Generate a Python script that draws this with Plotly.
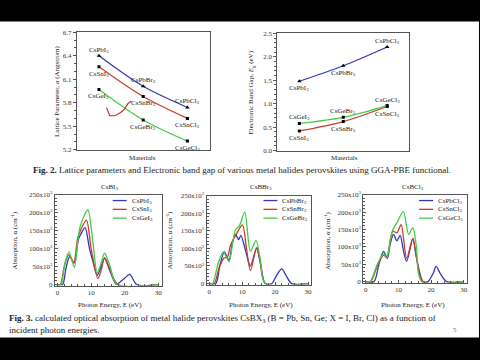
import plotly.graph_objects as go

# ---------------- data ----------------
materials_pos = [1, 2, 3]
lat_pb = [6.40, 6.01, 5.74]
lat_sn = [6.26, 5.88, 5.60]
lat_ge = [5.97, 5.58, 5.31]
lat_pb_labels = ["CsPbI<sub>3</sub>", "CsPbBr<sub>3</sub>", "CsPbCl<sub>3</sub>"]
lat_sn_labels = ["CsSnI<sub>3</sub>", "CsSnBr<sub>3</sub>", "CsSnCl<sub>3</sub>"]
lat_ge_labels = ["CsGeI<sub>3</sub>", "CsGeBr<sub>3</sub>", "CsGeCl<sub>3</sub>"]

gap_pb = [1.48, 1.81, 2.21]
gap_sn = [0.42, 0.62, 0.94]
gap_ge = [0.58, 0.71, 0.96]

# absorption (values in 10^3 cm^-1) vs photon energy (eV)
e_pbi = [0, 1.5, 2.5, 3.6, 5.0, 6.2, 7.2, 8.2, 9.5, 10.5, 11.8, 12.8, 14.0, 15.5, 17.5, 18.7, 19.8, 21.5, 23.6, 30]
a_pbi = [0, 0, 45, 78, 60, 125, 145, 158, 100, 65, 26, 45, 73, 40, 0, 8, 16, 28, 0, 0]
e_sni = [0, 0.8, 2.0, 3.3, 4.8, 6.0, 6.8, 8.6, 10.0, 12.0, 13.0, 14.0, 15.5, 18.0, 30]
a_sni = [0, 0, 50, 83, 60, 130, 150, 179, 100, 17, 40, 75, 45, 0, 0]
e_gei = [0, 1.0, 2.2, 3.4, 5.0, 6.0, 6.8, 9.0, 10.5, 11.8, 13.0, 14.0, 15.5, 17.7, 30]
a_gei = [0, 0, 60, 91, 48, 120, 164, 208, 120, 33, 60, 87, 55, 0, 0]

e_pbbr = [0, 2.0, 3.2, 4.6, 6.0, 7.0, 8.0, 8.9, 9.6, 11.0, 12.5, 14.4, 15.5, 17.0, 19.0, 20.5, 22.0, 23.5, 25.0, 30]
a_pbbr = [0, 0, 50, 90, 66, 115, 140, 125, 137, 95, 50, 100, 60, 0, 0, 24, 42, 20, 0, 0]
e_snbr = [0, 1.5, 3.0, 4.5, 5.5, 6.5, 8.2, 10.1, 11.3, 12.5, 14.4, 15.5, 17.0, 30]
a_snbr = [0, 0, 45, 73, 75, 110, 140, 167, 100, 37, 103, 60, 0, 0]
e_gebr = [0, 1.0, 2.8, 4.3, 6.0, 7.2, 8.0, 9.2, 10.8, 12.5, 14.2, 15.5, 17.0, 30]
a_gebr = [0, 0, 60, 90, 62, 120, 153, 165, 203, 92, 123, 70, 0, 0]

e_pbcl = [0, 2.5, 4.0, 5.4, 6.6, 7.5, 8.5, 9.5, 10.5, 11.5, 12.5, 14.4, 15.5, 17.5, 19.0, 20.7, 21.5, 23.0, 24.8, 30]
a_pbcl = [0, 0, 50, 87, 67, 110, 136, 117, 133, 90, 58, 122, 70, 0, 0, 25, 44, 20, 0, 0]
e_sncl = [0, 1.5, 3.5, 5.4, 6.4, 7.5, 8.3, 9.5, 10.8, 12.5, 14.4, 15.5, 17.5, 30]
a_sncl = [0, 0, 45, 76, 70, 120, 145, 140, 164, 67, 125, 70, 0, 0]
e_gecl = [0, 1.3, 3.5, 5.4, 6.4, 7.5, 8.3, 9.5, 11.5, 13.1, 14.4, 15.5, 17.1, 30]
a_gecl = [0, 0, 50, 80, 67, 120, 150, 169, 201, 136, 155, 100, 0, 0]

abs_ticks = [0, 50, 100, 150, 200, 250]
abs_ticktext = ["0"] + [f"{v}x10<sup>3</sup>" for v in abs_ticks[1:]]

# ---------------- styling ----------------
FONT = "Liberation Serif"
BLUE = "#3535b5"
RED = "#c83c2c"
GREEN = "#45cc45"
AX = "#555555"

fig = go.Figure()

def line_trace(x, y, color, xa, ya):
    return go.Scatter(x=x, y=y, mode="lines", line=dict(color=color, width=1.2, shape="spline", smoothing=0.9),
                      xaxis=xa, yaxis=ya, showlegend=False, hoverinfo="skip")

def pts(x, y, sym, xa, ya, size):
    return go.Scatter(x=x, y=y, mode="markers", marker=dict(symbol=sym, size=size, color="black", line=dict(width=0)),
                      xaxis=xa, yaxis=ya, showlegend=False, hoverinfo="skip")

for ys, col, sym, sz in [(lat_pb, BLUE, "triangle-up", 4), (lat_sn, RED, "square", 3), (lat_ge, GREEN, "square", 3)]:
    fig.add_trace(line_trace(materials_pos, ys, col, "x", "y"))
    fig.add_trace(pts(materials_pos, ys, sym, "x", "y", sz))

for ys, col, sym, sz in [(gap_pb, BLUE, "triangle-up", 4), (gap_sn, RED, "square", 3), (gap_ge, GREEN, "square", 3)]:
    fig.add_trace(line_trace(materials_pos, ys, col, "x2", "y2"))
    fig.add_trace(pts(materials_pos, ys, sym, "x2", "y2", sz))

sets = [
    ("x3", "y3", [(e_pbi, a_pbi, BLUE), (e_sni, a_sni, RED), (e_gei, a_gei, GREEN)]),
    ("x4", "y4", [(e_pbbr, a_pbbr, BLUE), (e_snbr, a_snbr, RED), (e_gebr, a_gebr, GREEN)]),
    ("x5", "y5", [(e_pbcl, a_pbcl, BLUE), (e_sncl, a_sncl, RED), (e_gecl, a_gecl, GREEN)]),
]
for xa, ya, series in sets:
    for e, a, col in series:
        fig.add_trace(go.Scatter(x=e, y=a, mode="lines",
                                 line=dict(color=col, width=1.3, shape="spline", smoothing=0.8),
                                 xaxis=xa, yaxis=ya, showlegend=False, hoverinfo="skip"))

def W(px0, px1):
    return [px0 / 480, px1 / 480]

def H(py_top, py_bot):
    return [1 - py_bot / 360, 1 - py_top / 360]

tickfont = dict(family=FONT, size=7, color="#333")
common = dict(showline=True, linecolor=AX, linewidth=1, mirror=True, showgrid=False, zeroline=False,
              tickfont=tickfont)

layout = dict(
    width=480, height=360, margin=dict(l=0, r=0, t=0, b=0),
    paper_bgcolor="black", plot_bgcolor="white", showlegend=False,
    font=dict(family=FONT, color="#222", size=7),
    xaxis=dict(domain=W(77, 210), anchor="y", range=[0.5, 3.5], showticklabels=False, ticks="", **common),
    yaxis=dict(domain=H(29, 149), anchor="x", range=[5.2, 6.7], tickvals=[5.2, 5.5, 5.8, 6.1, 6.4, 6.7],
               tickformat=".1f", ticks="outside", ticklen=3, tickcolor=AX,
               minor=dict(dtick=0.1, ticks="outside", ticklen=2, tickcolor=AX), **common),
    xaxis2=dict(domain=W(278, 410), anchor="y2", range=[0.5, 3.5], showticklabels=False, ticks="", **common),
    yaxis2=dict(domain=H(30, 150), anchor="x2", range=[0, 2.5], tickvals=[0, 0.5, 1, 1.5, 2, 2.5],
                tickformat=".1f", ticks="outside", ticklen=3, tickcolor=AX,
                minor=dict(dtick=0.1, ticks="outside", ticklen=2, tickcolor=AX), **common),
)

bot_dom = [(W(55, 162), H(195, 288)), (W(207, 312), H(196, 287)), (W(364, 468), H(195, 285))]
for i, (dx, dy) in enumerate(bot_dom):
    n = i + 3
    layout[f"xaxis{n}"] = dict(domain=dx, anchor=f"y{n}", range=[-0.8, 31], tickvals=[0, 10, 20, 30],
                               ticks="inside", ticklen=3, tickcolor=AX,
                               minor=dict(dtick=2, ticks="inside", ticklen=2, tickcolor=AX), **common)
    layout[f"yaxis{n}"] = dict(domain=dy, anchor=f"x{n}", range=[-3, 250], tickvals=abs_ticks,
                               ticktext=abs_ticktext, ticks="inside", ticklen=3, tickcolor=AX,
                               minor=dict(dtick=10, ticks="inside", ticklen=2, tickcolor=AX), **common)

fig.update_layout(**layout)

ann = []
def A(text, x, y, size=7, xanchor="center", color="#222", **kw):
    ann.append(dict(text=text, x=x, y=y, xref="paper", yref="paper", showarrow=False,
                    font=dict(family=FONT, size=size, color=color),
                    xanchor=xanchor, yanchor="middle", **kw))

off = {"above": -6, "below": 7}
tl = [(lat_pb_labels, lat_pb, ["above", "above", "above"]),
      (lat_sn_labels, lat_sn, ["below", "below", "below"]),
      (lat_ge_labels, lat_ge, ["below", "below", "below"])]
for labels, vals, where in tl:
    for xi, v, lab, w in zip(materials_pos, vals, labels, where):
        ann.append(dict(text=lab, x=xi, y=v, xref="x", yref="y", showarrow=False, yshift=-off[w],
                        font=dict(family=FONT, size=7, color="#222")))
tr = [(lat_pb_labels, gap_pb, ["below", "below", "above"]),
      (lat_sn_labels, gap_sn, ["below", "below", "below"]),
      (lat_ge_labels, gap_ge, ["above", "above", "above"])]
for labels, vals, where in tr:
    for xi, v, lab, w in zip(materials_pos, vals, labels, where):
        ann.append(dict(text=lab, x=xi, y=v, xref="x2", yref="y2", showarrow=False, yshift=-off[w],
                        font=dict(family=FONT, size=7, color="#222")))

A("Lattice Parameter, <i>a</i> (Angstrom)", 57 / 480, 1 - 89 / 360, textangle=-90, size=7)
A("Materials", 143 / 480, 1 - 158 / 360, size=7)
A("Electronic Band Gap, <i>E</i><sub>g</sub> (eV)", 252 / 480, 1 - 90 / 360, textangle=-90, size=7)
A("Materials", 345 / 480, 1 - 158 / 360, size=7)

A("<b>Fig. 2.</b> Lattice parameters and Electronic band gap of various metal halides perovskites using GGA-PBE functional.",
  243 / 480, 1 - 170 / 360, size=9)

titles = ["CsBI<sub>3</sub>", "CsBBr<sub>3</sub>", "CsBCl<sub>3</sub>"]
tx = [110, 262, 414]
ytx = [15, 170, 328]
for i in range(3):
    A(titles[i], tx[i] / 480, 1 - 187 / 360, size=7)
    A("Photon Energy, E (eV)", tx[i] / 480, 1 - 308 / 360, size=7)
    A("Absorption, α (cm<sup>-1</sup>)", ytx[i] / 480, 1 - 242 / 360, textangle=-90, size=7)

leg_names = [["CsPbI<sub>3</sub>", "CsSnI<sub>3</sub>", "CsGeI<sub>3</sub>"],
             ["CsPbBr<sub>3</sub>", "CsSnBr<sub>3</sub>", "CsGeBr<sub>3</sub>"],
             ["CsPbCl<sub>3</sub>", "CsSnCl<sub>3</sub>", "CsGeCl<sub>3</sub>"]]
leg_x = [113, 264, 420]
shapes = []
shapes.append(dict(type="rect", xref="paper", yref="paper", x0=0, x1=1, y0=1 - 341 / 360, y1=1 - 18 / 360,
                   fillcolor="white", line=dict(width=0), layer="below"))
for i in range(3):
    for j, (nm, col) in enumerate(zip(leg_names[i], [BLUE, RED, GREEN])):
        yy = 1 - (201 + 9 * j) / 360
        shapes.append(dict(type="line", xref="paper", yref="paper", x0=leg_x[i] / 480, x1=(leg_x[i] + 14) / 480,
                           y0=yy, y1=yy, line=dict(color=col, width=1.3)))
        A(nm, (leg_x[i] + 17) / 480, yy, xanchor="left", size=7)

A("<b>Fig. 3.</b> calculated optical absorption of metal halide perovskites CsBX<sub>3</sub> (B = Pb, Sn, Ge; X = I, Br, Cl) as a function of",
  7 / 480, 1 - 322 / 360, xanchor="left", size=9)
A("incident photon energies.", 7 / 480, 1 - 333 / 360, xanchor="left", size=9)
A("5", 456 / 480, 1 - 333 / 360, size=7, color="#777")

pts_px = [(106.7, 106), (110, 114.3), (115, 114.3), (121, 111), (125, 107.3), (128.3, 101.7), (131.7, 99.3)]
path = "M " + " L ".join(f"{x / 480:.4f},{1 - y / 360:.4f}" for x, y in pts_px)
shapes.append(dict(type="path", xref="paper", yref="paper", path=path, line=dict(color="#c0302a", width=1.2)))

fig.update_layout(annotations=ann, shapes=shapes)
fig.write_html("out.html", config={"displayModeBar": False},
               post_script="document.documentElement.style.margin='0';document.body.style.margin='0';"
                           "document.body.style.padding='0';document.documentElement.style.overflow='hidden';"
                           "document.body.style.background='white';")
